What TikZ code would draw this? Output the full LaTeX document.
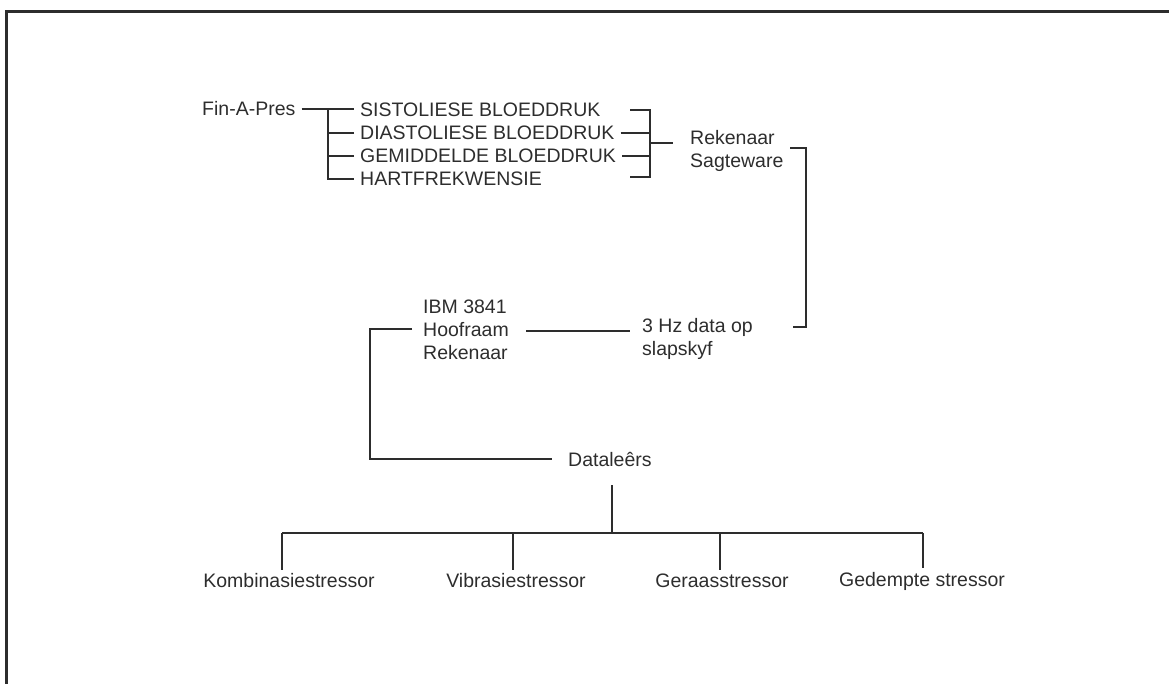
\documentclass[tikz,border=0pt]{standalone}
\usepackage{fontspec}
\setmainfont{Liberation Sans}
\definecolor{ink}{RGB}{45,45,45}
\tikzset{
  lbl/.style={inner xsep=6pt, inner ysep=0pt, text=ink, font=\fontsize{19.5}{23}\selectfont},
  wire/.style={draw=ink, line width=2.2pt},
}
\begin{document}
\begin{tikzpicture}[x=1pt, y=-1pt]
\useasboundingbox (0,0) rectangle (1169,684);
% frame
\coordinate (fbl) at (6,684);
\coordinate (ftl) at (6,12);
\coordinate (ftr) at (1169,12);
\draw[wire, line width=3pt] (fbl) -- (ftl) -- (ftr);
% Fin-A-Pres
\node[lbl, anchor=west] (fin) at (196,109) {Fin-A-Pres};
\node[lbl, anchor=west] (s1) at (354,110) {SISTOLIESE BLOEDDRUK};
\node[lbl, anchor=west] (s2) at (354,133) {DIASTOLIESE BLOEDDRUK};
\node[lbl, anchor=west] (s3) at (354,156) {GEMIDDELDE BLOEDDRUK};
\node[lbl, anchor=west] (s4) at (354,179) {HARTFREKWENSIE};
\coordinate (lbtop) at (328,109);
\draw[wire](fin.east) -- (s1.west |- fin.east);
\draw[wire](lbtop) |- (s4.west);
\draw[wire](s2.west) -- (s2.west -| lbtop);
\draw[wire](s3.west) -- (s3.west -| lbtop);
\coordinate (r1) at (630,110);
\coordinate (rbtop) at (650,110);
\coordinate (rbbot) at (650,177);
\coordinate (r4) at (630,177);
\coordinate (rbmid) at (650,143);
\draw[wire](r1) -- (rbtop) -- (rbbot) -- (r4);
\draw[wire](s2.east) -- (s2.east -| rbtop);
\draw[wire](s3.east) -- (s3.east -| rbtop);
% Rekenaar Sagteware
\node[lbl, anchor=west, align=left] (rek) at (684,151) {Rekenaar\\Sagteware};
\draw[wire, shorten >=11pt](rbmid) -- (rbmid -| rek.west);
\coordinate (q1) at (790,148);
\coordinate (q2) at (806,148);
\coordinate (q3) at (806,327);
\coordinate (q4) at (793,327);
\draw[wire](q1) -- (q2) -- (q3) -- (q4);
% IBM en slapskyf
\node[lbl, anchor=west, align=left] (hz) at (636,339) {3 Hz data op\\slapskyf};
\node[lbl, anchor=west, align=left] (ibm) at (417,330) {IBM 3841\\Hoofraam\\Rekenaar};
\coordinate (hzl) at (630,331);
\draw[wire](hzl -| ibm.east) ++(11,0) -- (hzl);
\coordinate (ibml) at (370,329);
\node[lbl, anchor=west] (dat) at (562,459) {Dataleêrs};
\draw[wire, shorten >=10pt](ibm.west) ++(-5,-1) -- (ibml) |- (dat.west);
% Dataleers na stressors
\coordinate (dtop) at (612,485);
\coordinate (bus) at (612,533);
\draw[wire](dtop) -- (bus);
\node[lbl] (kom) at (289,581) {Kombinasiestressor};
\node[lbl] (vib) at (516,581) {Vibrasiestressor};
\node[lbl] (ger) at (722,581) {Geraasstressor};
\node[lbl] (ged) at (922,581) {Gedempte stressor};
\coordinate (b1) at (282,533);
\coordinate (b2) at (513,533);
\coordinate (b3) at (720,533);
\coordinate (b4) at (923,533);
\draw[wire](b1) -- (b4);
\draw[wire, shorten >=4pt](b1) -- (b1 |- kom.north);
\draw[wire, shorten >=4pt](b2) -- (b2 |- vib.north);
\draw[wire, shorten >=4pt](b3) -- (b3 |- ger.north);
\draw[wire, shorten >=4pt](b4) -- (b4 |- ged.north);
\end{tikzpicture}
\end{document}
